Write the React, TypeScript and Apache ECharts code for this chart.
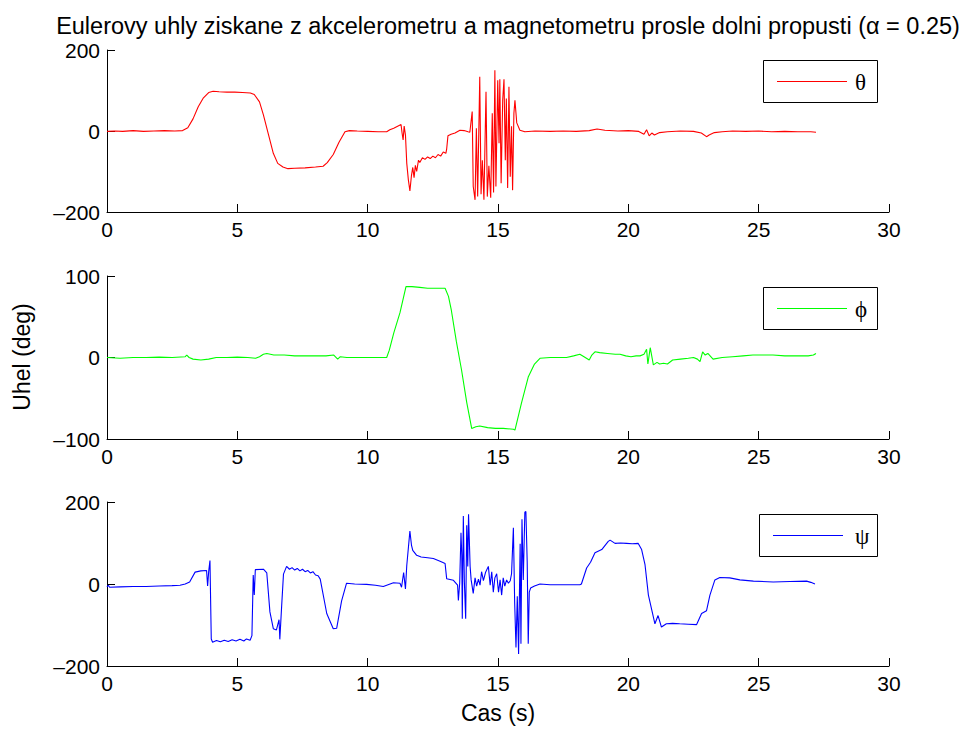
import React, { useEffect, useRef } from "react";
import * as echarts from "echarts";

// Time stamps (s) and Euler angles (deg) after the low-pass filter
const thetaT = [0, 0.3, 0.6, 1.0, 1.4, 1.8, 2.2, 2.6, 2.9, 3.1, 3.3, 3.5, 3.7, 3.9, 4.07, 4.3, 4.6, 4.9, 5.2, 5.5, 5.65, 5.85, 6.0, 6.2, 6.38, 6.55, 6.75, 6.94, 7.2, 7.6, 8.0, 8.29, 8.45, 8.68, 8.9, 9.13, 9.3, 9.6, 10.0, 10.4, 10.73, 10.85, 11.0, 11.15, 11.28, 11.32, 11.36, 11.4, 11.45, 11.5, 11.56, 11.62, 11.68, 11.73, 11.78, 11.83, 11.88, 11.95, 12.0, 12.1, 12.2, 12.3, 12.4, 12.5, 12.6, 12.7, 12.8, 12.9, 13.0, 13.03, 13.08, 13.2, 13.35, 13.54, 13.7, 13.85, 13.92, 14.01, 14.05, 14.12, 14.17, 14.22, 14.3, 14.35, 14.4, 14.46, 14.54, 14.59, 14.65, 14.72, 14.78, 14.83, 14.88, 14.92, 14.99, 15.04, 15.07, 15.12, 15.18, 15.23, 15.28, 15.32, 15.37, 15.42, 15.47, 15.52, 15.56, 15.61, 15.65, 15.72, 15.84, 16.03, 16.42, 17.0, 17.5, 18.0, 18.5, 18.8, 19.1, 19.6, 20.0, 20.4, 20.6, 20.7, 20.8, 20.9, 21.0, 21.2, 21.5, 22.0, 22.5, 22.8, 23.0, 23.1, 23.3, 23.6, 24.0, 24.5, 25.0, 25.5, 26.0, 26.5, 27.0, 27.2];
const thetaV = [-1, 0, -1, 1, -1, 0, 1, 0, 1, 8, 30, 60, 82, 95, 98, 97, 96, 96, 95, 94, 90, 72, 40, -10, -55, -80, -89, -93, -92, -91, -89, -87, -78, -58, -28, -2, 1, 0, -1, -2, -2, 3, 7, 12, 16, -5, -22, 12, -10, -80, -120, -148, -110, -90, -115, -85, -100, -72, -78, -66, -70, -64, -68, -62, -66, -58, -62, -52, -55, -45, -12, -8, -5, 2, 1, -2, -3, 48, -137, -170, 7, -162, 134, -156, -72, -170, 97, -162, -86, -165, 44, -152, 150, -137, 125, -30, 128, -129, 76, 128, -72, 80, -141, 109, -113, 12, -146, 44, 76, 20, 2, -2, 0, -1, 0, -1, 1, 5, 2, 0, 1, -1, -8, 3, -12, -5, -10, -4, -2, 0, -1, -5, -14, -10, -4, -2, 0, -1, 0, -2, -1, -2, -2, -3];

const phiT = [0, 0.5, 1.0, 1.5, 2.0, 2.5, 3.0, 3.06, 3.15, 3.3, 3.6, 3.9, 4.19, 4.6, 5.0, 5.4, 5.7, 5.85, 6.0, 6.13, 6.4, 6.8, 7.2, 7.6, 8.0, 8.4, 8.7, 8.85, 8.95, 9.2, 9.6, 10.0, 10.4, 10.73, 10.83, 11.0, 11.24, 11.47, 11.7, 12.0, 12.3, 12.6, 12.97, 13.1, 13.21, 13.4, 13.6, 13.8, 13.99, 14.15, 14.3, 14.6, 14.9, 15.2, 15.59, 15.65, 15.9, 16.16, 16.4, 16.61, 17.0, 17.63, 17.9, 18.14, 18.3, 18.5, 18.6, 18.72, 18.9, 19.2, 19.5, 19.68, 19.9, 20.1, 20.3, 20.45, 20.6, 20.7, 20.75, 20.84, 20.96, 21.1, 21.2, 21.35, 21.5, 21.7, 22.0, 22.3, 22.5, 22.65, 22.75, 22.85, 22.95, 23.05, 23.25, 23.6, 24.0, 24.4, 24.78, 25.2, 25.55, 26.0, 26.5, 26.9, 27.1, 27.2];
const phiV = [0, -1, 0, 0, 0.5, 0, 1, 3, 0, -2, -3, -2, 0, 0, 0.5, 0, -1, 1, 4, 5, 3, 3, 2, 2, 2, 2, 3, -2, 1, 0, 0, 0, 0, 0, 9, 30, 55, 87, 87, 86, 85, 85, 85, 75, 58, 20, -15, -55, -87, -85, -84, -86, -87, -87, -88, -89, -56, -24, -8, -1, 0, 0, 2, 4, 1, -3, 3, 7, 6, 5, 4, 4, 2, 1, 2, 2, 4, 10, -8, 12, -9, -6, -8, -7, -8, -3, -2, -1, 0, -2, -5, 7, 3, 5, -2, 0, 1, 2, 3, 3, 3, 2, 2, 2, 3, 5];

const psiT = [0, 0.05, 0.1, 0.5, 1.0, 1.5, 2.0, 2.5, 2.8, 3.0, 3.17, 3.38, 3.6, 3.82, 3.86, 3.9, 3.95, 4.0, 4.05, 4.2, 4.35, 4.5, 4.65, 4.8, 4.95, 5.1, 5.25, 5.35, 5.49, 5.56, 5.61, 5.65, 5.69, 6.0, 6.13, 6.25, 6.38, 6.5, 6.6, 6.63, 6.7, 6.77, 6.89, 7.0, 7.1, 7.2, 7.3, 7.4, 7.5, 7.6, 7.7, 7.8, 7.9, 8.0, 8.1, 8.18, 8.43, 8.68, 8.81, 9.0, 9.19, 9.5, 9.96, 10.3, 10.6, 10.99, 11.24, 11.3, 11.38, 11.45, 11.5, 11.62, 11.68, 11.73, 11.88, 12.05, 12.3, 12.52, 12.8, 12.97, 13.03, 13.29, 13.45, 13.48, 13.53, 13.58, 13.61, 13.63, 13.67, 13.71, 13.76, 13.8, 13.84, 13.87, 13.93, 13.97, 14.05, 14.12, 14.18, 14.25, 14.31, 14.37, 14.44, 14.52, 14.63, 14.7, 14.76, 14.82, 14.88, 14.95, 15.02, 15.08, 15.14, 15.2, 15.26, 15.33, 15.4, 15.47, 15.52, 15.59, 15.64, 15.69, 15.74, 15.79, 15.85, 15.88, 15.92, 15.97, 16.03, 16.07, 16.12, 16.16, 16.2, 16.25, 16.4, 16.61, 17.0, 17.5, 18.14, 18.2, 18.4, 18.55, 18.72, 18.98, 19.23, 19.3, 19.49, 19.7, 19.93, 20.15, 20.38, 20.51, 20.64, 20.77, 21.02, 21.14, 21.27, 21.46, 21.7, 21.97, 22.3, 22.62, 22.81, 23.0, 23.13, 23.32, 23.51, 23.89, 24.28, 24.8, 25.56, 26.2, 26.84, 27.0, 27.16];
const psiV = [-7, -3, -8, -7, -6, -6, -5, -4, -3, 0, 5, 29, 32, 33, -5, 30, 57, -134, -142, -138, -141, -137, -140, -136, -139, -135, -139, -134, -137, -126, 22, -27, 35, 36, 27, -68, -109, -112, -87, -135, -54, 24, 43, 36, 40, 34, 38, 32, 36, 30, 33, 27, 30, 22, 20, 12, -72, -109, -108, -41, 2, 0, -1, -3, -6, 3, 2, -8, 28, -12, 45, 129, 95, 82, 70, 66, 64, 62, 55, 50, 13, 9, -3, -40, 2, 125, 70, -85, 166, 5, -85, 143, 43, 170, 43, 10, -23, 15, -5, 12, -3, 30, 8, 28, 43, -3, 30, -20, 15, 25, -20, 10, -27, 15, -5, 10, 2, 8, 25, 137, -47, -155, -30, -171, 98, -146, 158, 10, 175, 177, 54, -146, -20, -10, -5, 0, -2, -2, -2, 0, 39, 53, 76, 84, 104, 107, 99, 100, 99, 98, 99, 84, 47, -27, -97, -77, -105, -97, -96, -97, -98, -99, -72, -65, -27, 10, 16, 15, 10, 7, 5, 6, 7, 4, 0];

const xTicks = [0, 5, 10, 15, 20, 25, 30];
const legendNames = ["θ", "ϕ", "ψ"];
const seriesColors = ["#ff0000", "#00ff00", "#0000ff"];
const yRanges = [
  [-200, 200, 200],
  [-100, 100, 100],
  [-200, 200, 200],
];

const titleText = "Eulerovy uhly ziskane z akcelerometru a magnetometru prosle dolni propusti (α = 0.25)";
const yName = "Uhel (deg)";
const xName = "Cas (s)";

const FONT = "'Liberation Sans', Arial, Helvetica, sans-serif";
const TICK_FS = 21;
const TITLE_FS = 23.5;
const NAME_FS = 23;

const pairs = (t: number[], v: number[]) => t.map((x, i) => [x, v[i]]);

export default function App() {
  const ref = useRef<HTMLDivElement>(null);

  useEffect(() => {
    if (!ref.current) return;
    const chart = echarts.init(ref.current, undefined, { renderer: "svg" });

    const gridTops = [50, 276, 502];
    const gridHeights = [162, 163, 164];
    const plotLeft = 107;
    const plotWidth = 782;

    const grids = gridTops.map((top, i) => ({
      left: plotLeft,
      top,
      width: plotWidth,
      height: gridHeights[i],
      outerBoundsMode: "none",
      containLabel: false,
    }));

    const axisCommon = {
      axisLine: { show: true, onZero: false, lineStyle: { color: "#000", width: 1 } },
      axisTick: { show: true, inside: true, length: 8, lineStyle: { color: "#000", width: 1 } },
      splitLine: { show: false },
      axisLabel: {
        color: "#000",
        fontFamily: FONT,
        fontSize: TICK_FS,
        formatter: (v: number) => String(v).replace("-", "\u2013"),
      },
    };

    const xAxes = gridTops.map((_, i) => ({
      ...axisCommon,
      type: "value",
      gridIndex: i,
      min: xTicks[0],
      max: xTicks[xTicks.length - 1],
      interval: xTicks[1] - xTicks[0],
      axisLabel: { ...axisCommon.axisLabel, margin: 7 },
    }));

    const yAxes = yRanges.map(([min, max, interval], i) => ({
      ...axisCommon,
      type: "value",
      gridIndex: i,
      min,
      max,
      interval,
      axisLabel: { ...axisCommon.axisLabel, margin: 7 },
    }));

    const data = [pairs(thetaT, thetaV), pairs(phiT, phiV), pairs(psiT, psiV)];

    const series = data.map((d, i) => ({
      type: "line",
      name: legendNames[i],
      xAxisIndex: i,
      yAxisIndex: i,
      data: d,
      showSymbol: false,
      symbol: "none",
      lineStyle: { color: seriesColors[i], width: 1.1 },
      emphasis: { disabled: true },
    }));

    // Boxed legend inside each subplot
    const legendBoxes = [
      { x: 763, y: 60, w: 114, h: 42 },
      { x: 763, y: 287, w: 114, h: 42 },
      { x: 759, y: 514, w: 118, h: 42 },
    ];
    const legendGraphics: any[] = [];
    legendBoxes.forEach((b, i) => {
      legendGraphics.push({
        type: "rect",
        shape: { x: b.x + 0.5, y: b.y + 0.5, width: b.w, height: b.h },
        style: { fill: "#fff", stroke: "#000", lineWidth: 1 },
        z: 100,
      });
      legendGraphics.push({
        type: "line",
        shape: { x1: b.x + 14, y1: b.y + 21.5, x2: b.x + 84, y2: b.y + 21.5 },
        style: { stroke: seriesColors[i], lineWidth: 1 },
        z: 101,
      });
      legendGraphics.push({
        type: "text",
        x: b.x + 92 + (b.w - 114),
        y: b.y + 22,
        style: {
          text: legendNames[i],
          fontFamily: "'Liberation Serif', 'DejaVu Serif', serif",
          fontSize: 23,
          fill: "#000",
          textVerticalAlign: "middle",
        },
        z: 101,
      });
    });

    chart.setOption({
      animation: false,
      backgroundColor: "#fff",
      grid: grids,
      xAxis: xAxes,
      yAxis: yAxes,
      series,
      graphic: [
        {
          type: "text",
          x: 508,
          y: 26,
          style: {
            text: titleText,
            fontFamily: FONT,
            fontSize: TITLE_FS,
            fill: "#000",
            textAlign: "center",
            textVerticalAlign: "middle",
          },
        },
        {
          type: "text",
          x: 22,
          y: 357,
          rotation: Math.PI / 2,
          style: {
            text: yName,
            fontFamily: FONT,
            fontSize: NAME_FS,
            fill: "#000",
            textAlign: "center",
            textVerticalAlign: "middle",
          },
        },
        {
          type: "text",
          x: 498,
          y: 713,
          style: {
            text: xName,
            fontFamily: FONT,
            fontSize: NAME_FS,
            fill: "#000",
            textAlign: "center",
            textVerticalAlign: "middle",
          },
        },
        ...legendGraphics,
      ],
    });

    return () => chart.dispose();
  }, []);

  return (
    <div
      ref={ref}
      style={{ position: "fixed", left: 0, top: 0, width: 971, height: 733, background: "#fff" }}
    />
  );
}
